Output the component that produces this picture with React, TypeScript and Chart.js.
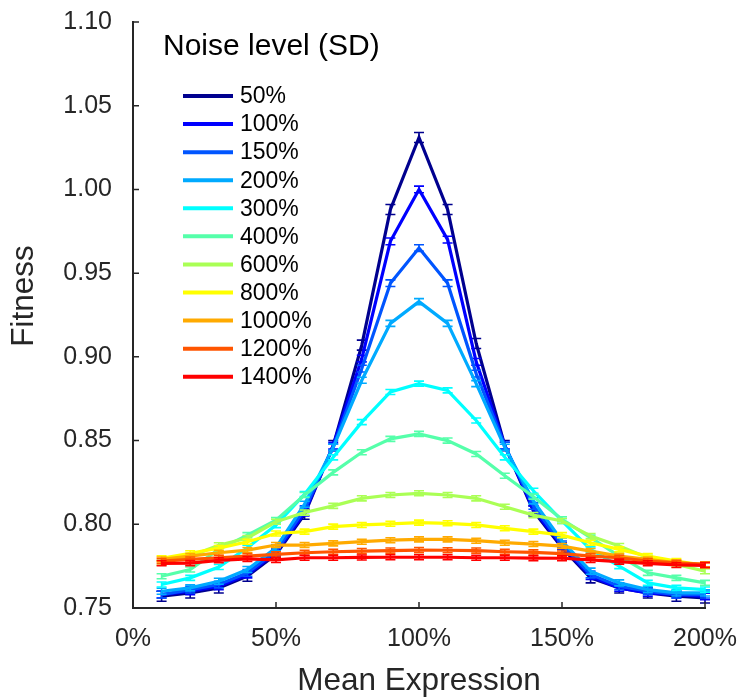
import { useEffect, useRef } from "react";
import { Chart, registerables } from "chart.js";

Chart.register(...registerables);

// Mean expression (% of optimum) at which fitness was simulated
const meanExpression = [10, 20, 30, 40, 50, 60, 70, 80, 90, 100, 110, 120, 130, 140, 150, 160, 170, 180, 190, 200];

const noiseLabels = ["50%", "100%", "150%", "200%", "300%", "400%", "600%", "800%", "1000%", "1200%", "1400%"];
const noiseColors = ["#00008f", "#0000ff", "#0055ff", "#00aaff", "#00ffff", "#55ffaa", "#aaff55", "#ffff00", "#ffaa00", "#ff5500", "#ff0000"];

// Mean fitness for each noise level
const fitness50 = [0.757, 0.759, 0.762, 0.769, 0.782, 0.806, 0.847, 0.907, 0.988, 1.031, 0.988, 0.908, 0.847, 0.808, 0.786, 0.768, 0.762, 0.759, 0.757, 0.756];
const fitness100 = [0.758, 0.76, 0.763, 0.77, 0.783, 0.807, 0.847, 0.899, 0.969, 1.0, 0.97, 0.897, 0.847, 0.809, 0.787, 0.769, 0.762, 0.759, 0.758, 0.757];
const fitness150 = [0.758, 0.761, 0.764, 0.771, 0.784, 0.809, 0.846, 0.893, 0.944, 0.965, 0.944, 0.89, 0.847, 0.811, 0.788, 0.77, 0.763, 0.76, 0.758, 0.758];
const fitness200 = [0.76, 0.762, 0.766, 0.773, 0.786, 0.812, 0.846, 0.886, 0.92, 0.933, 0.92, 0.884, 0.846, 0.814, 0.79, 0.772, 0.765, 0.761, 0.759, 0.759];
const fitness300 = [0.764, 0.768, 0.7745, 0.786, 0.7995, 0.818, 0.84, 0.861, 0.879, 0.884, 0.88, 0.862, 0.84, 0.82, 0.802, 0.785, 0.775, 0.765, 0.762, 0.761];
const fitness400 = [0.769, 0.773, 0.785, 0.7935, 0.8025, 0.8175, 0.831, 0.843, 0.851, 0.854, 0.85, 0.842, 0.829, 0.8165, 0.803, 0.792, 0.781, 0.771, 0.768, 0.765];
const fitness600 = [0.777, 0.781, 0.7875, 0.7918, 0.8015, 0.807, 0.811, 0.8155, 0.8175, 0.8185, 0.8175, 0.8155, 0.8105, 0.8055, 0.802, 0.793, 0.787, 0.78, 0.776, 0.772];
const fitness800 = [0.7797, 0.7827, 0.7858, 0.7896, 0.7945, 0.7956, 0.7986, 0.7996, 0.8003, 0.801, 0.8006, 0.7996, 0.7976, 0.7956, 0.7935, 0.789, 0.785, 0.781, 0.778, 0.7755];
const fitness1000 = [0.779, 0.781, 0.783, 0.7846, 0.7876, 0.7876, 0.7886, 0.7896, 0.7905, 0.791, 0.791, 0.7902, 0.789, 0.7882, 0.787, 0.784, 0.781, 0.779, 0.777, 0.776];
const fitness1200 = [0.778, 0.779, 0.78, 0.781, 0.782, 0.783, 0.7836, 0.784, 0.7843, 0.7846, 0.7845, 0.7843, 0.7836, 0.7832, 0.7825, 0.781, 0.78, 0.778, 0.777, 0.776];
const fitness1400 = [0.7767, 0.7768, 0.7785, 0.7793, 0.7787, 0.78, 0.78, 0.7802, 0.7803, 0.7803, 0.7803, 0.78, 0.78, 0.7798, 0.7797, 0.7787, 0.7777, 0.7767, 0.7757, 0.7755];

const fitnessSeries = [fitness50, fitness100, fitness150, fitness200, fitness300, fitness400, fitness600, fitness800, fitness1000, fitness1200, fitness1400];

// Half-length of the error bars (standard error) for each noise level
const fitnessError = [0.003, 0.002, 0.002, 0.0018, 0.0015, 0.0015, 0.0015, 0.0015, 0.0015, 0.0015, 0.0015];

const xTickStep = 50;
const yTickStep = 0.05;

const xTitle = "Mean Expression";
const yTitle = "Fitness";
const legendTitle = "Noise level (SD)";

const FONT = "'Liberation Sans', Arial, Helvetica, sans-serif";
const AXIS_COLOR = "#262626";

// Vertical error bars with caps, drawn right after each line
const errorBarPlugin = {
  id: "errorBars",
  afterDatasetDraw(chart: any, args: any) {
    const i = args.index;
    const meta = args.meta;
    const yScale = chart.scales.y;
    const ctx = chart.ctx;
    const values = fitnessSeries[i];
    const err = fitnessError[i];
    ctx.save();
    ctx.strokeStyle = noiseColors[i];
    ctx.lineWidth = 1.6;
    meta.data.forEach((pt: any, j: number) => {
      const x = pt.x;
      const yTop = yScale.getPixelForValue(values[j] + err);
      const yBot = yScale.getPixelForValue(values[j] - err);
      ctx.beginPath();
      ctx.moveTo(x, yTop);
      ctx.lineTo(x, yBot);
      ctx.moveTo(x - 5, yTop);
      ctx.lineTo(x + 5, yTop);
      ctx.moveTo(x - 5, yBot);
      ctx.lineTo(x + 5, yBot);
      ctx.stroke();
    });
    ctx.restore();
  },
};

// Inward tick marks, axis titles and the legend box
const decorPlugin = {
  id: "decor",
  afterDraw(chart: any) {
    const ctx = chart.ctx;
    const { left, right, top, bottom } = chart.chartArea;
    const xs = chart.scales.x;
    const ys = chart.scales.y;
    ctx.save();
    ctx.strokeStyle = AXIS_COLOR;
    ctx.lineWidth = 1.5;
    ctx.beginPath();
    xs.ticks.forEach((t: any) => {
      const x = xs.getPixelForValue(t.value);
      ctx.moveTo(x, bottom);
      ctx.lineTo(x, bottom - 6);
    });
    ys.ticks.forEach((t: any) => {
      const y = ys.getPixelForValue(t.value);
      ctx.moveTo(left, y);
      ctx.lineTo(left + 6, y);
    });
    ctx.stroke();

    // axis titles
    ctx.fillStyle = AXIS_COLOR;
    ctx.font = `31.5px ${FONT}`;
    ctx.textAlign = "center";
    ctx.textBaseline = "alphabetic";
    ctx.fillText(xTitle, (left + right) / 2, 690);
    ctx.save();
    ctx.translate(33, (top + bottom) / 2 - 19);
    ctx.rotate(-Math.PI / 2);
    ctx.fillText(yTitle, 0, 0);
    ctx.restore();

    // legend
    ctx.fillStyle = "#000";
    ctx.textBaseline = "middle";
    ctx.textAlign = "left";
    ctx.font = `30px ${FONT}`;
    ctx.fillText(legendTitle, 163, 47);
    ctx.font = `23px ${FONT}`;
    chart.data.datasets.forEach((ds: any, i: number) => {
      const y = 96 + i * 28.07;
      ctx.strokeStyle = ds.borderColor;
      ctx.lineWidth = 4;
      ctx.beginPath();
      ctx.moveTo(183, y);
      ctx.lineTo(233, y);
      ctx.stroke();
      ctx.fillText(ds.label, 240, y + 1);
    });
    ctx.restore();
  },
};

export default function App() {
  const canvasRef = useRef<HTMLCanvasElement>(null);

  useEffect(() => {
    const datasets = fitnessSeries.map((series, i) => ({
      label: noiseLabels[i],
      data: series.map((v, j) => ({ x: meanExpression[j], y: v })),
      borderColor: noiseColors[i],
      backgroundColor: noiseColors[i],
      borderWidth: 3.2,
      pointRadius: 0,
      tension: 0,
      fill: false,
      order: 100 - i,
    }));

    const chart = new Chart(canvasRef.current as HTMLCanvasElement, {
      type: "line",
      data: { datasets },
      options: {
        animation: false,
        responsive: false,
        devicePixelRatio: 1,
        layout: { padding: { left: 0, top: 22, right: 33, bottom: 0 } },
        plugins: {
          legend: { display: false },
          tooltip: { enabled: false },
        },
        scales: {
          x: {
            type: "linear",
            min: 0,
            max: 200,
            afterFit: (s: any) => {
              s.height = 90;
              s.paddingLeft = 0;
              s.paddingRight = 0;
            },
            border: { display: true, color: AXIS_COLOR, width: 2 },
            grid: { display: false },
            ticks: {
              stepSize: xTickStep,
              maxRotation: 0,
              padding: 8,
              color: AXIS_COLOR,
              font: { family: FONT, size: 25 },
              callback: (v: any) => `${v}%`,
            },
          },
          y: {
            type: "linear",
            min: 0.75,
            max: 1.1,
            afterFit: (s: any) => {
              s.width = 133;
              s.paddingTop = 0;
              s.paddingBottom = 0;
            },
            border: { display: true, color: AXIS_COLOR, width: 2 },
            grid: { display: false },
            ticks: {
              stepSize: yTickStep,
              padding: 13,
              color: AXIS_COLOR,
              font: { family: FONT, size: 25 },
              callback: (v: any) => Number(v).toFixed(2),
            },
          },
        },
      },
      plugins: [errorBarPlugin, decorPlugin],
    } as any);

    return () => chart.destroy();
  }, []);

  return (
    <div style={{ position: "absolute", left: 0, top: 0, width: 738, height: 698, background: "#fff" }}>
      <canvas ref={canvasRef} width={738} height={698} style={{ display: "block" }} />
    </div>
  );
}
